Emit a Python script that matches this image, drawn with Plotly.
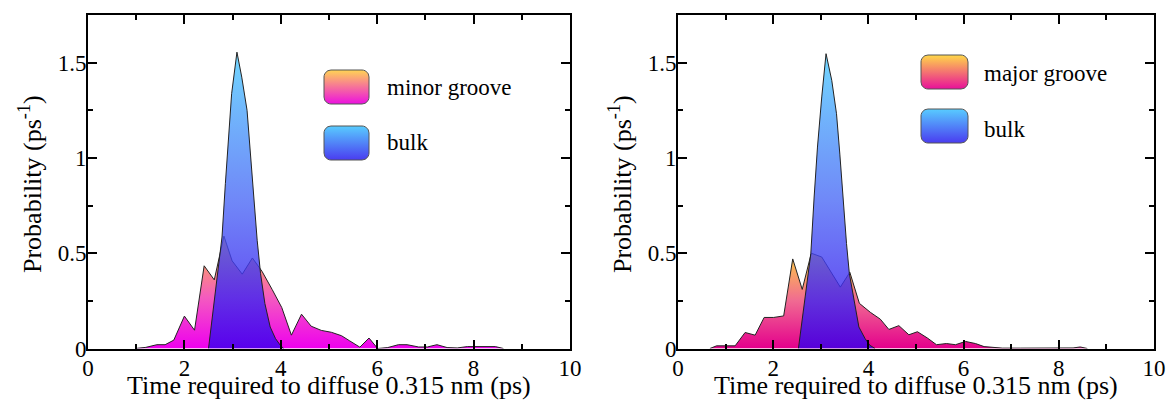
import numpy as np
import plotly.graph_objects as go

# ---- data: probability density vs. diffusion time (ps) ----
x_minor = [0.98, 1.20, 1.43, 1.60, 1.78, 2.00, 2.21, 2.41, 2.62, 2.82, 2.99, 3.20, 3.41, 3.61,
           3.82, 4.02, 4.22, 4.43, 4.63, 4.84, 5.05, 5.26, 5.43, 5.64, 5.83, 6.01, 6.22, 6.44,
           6.62, 6.86, 7.04, 7.24, 7.45, 7.66, 7.87, 8.07, 8.28, 8.45, 8.62]
y_minor = [0.0, 0.006, 0.02, 0.02, 0.044, 0.17, 0.096, 0.434, 0.36, 0.59, 0.46, 0.39, 0.475, 0.405,
           0.31, 0.215, 0.07, 0.18, 0.117, 0.095, 0.085, 0.067, 0.04, 0.007, 0.055, 0.0, 0.005, 0.02,
           0.02, 0.008, 0.008, 0.02, 0.005, 0.003, 0.01, 0.01, 0.01, 0.01, 0.0]

x_bulk_left = [2.50, 2.64, 2.78, 2.85, 2.92, 2.98, 3.09, 3.19, 3.30, 3.37, 3.44, 3.51, 3.58, 3.67,
               3.78, 3.89, 3.99, 4.06]
y_bulk_left = [0.0, 0.29, 0.585, 0.865, 1.11, 1.337, 1.555, 1.424, 1.25, 1.04, 0.795, 0.568, 0.393,
               0.236, 0.113, 0.052, 0.017, 0.0]

x_major = [0.67, 0.81, 1.00, 1.20, 1.41, 1.62, 1.81, 2.01, 2.22, 2.41, 2.61, 2.80, 3.02, 3.21, 3.41,
           3.61, 3.81, 4.04, 4.25, 4.43, 4.64, 4.85, 5.03, 5.24, 5.43, 5.64, 5.83, 6.04, 6.25, 6.43,
           6.64, 6.81, 7.20, 7.60, 8.00, 8.30, 8.45, 8.60]
y_major = [0.0, 0.014, 0.014, 0.014, 0.084, 0.07, 0.163, 0.163, 0.171, 0.47, 0.31, 0.50, 0.48, 0.40,
           0.322, 0.40, 0.237, 0.19, 0.154, 0.10, 0.12, 0.072, 0.088, 0.055, 0.02, 0.026, 0.02,
           0.037, 0.026, 0.01, 0.007, 0.002, 0.002, 0.002, 0.002, 0.003, 0.008, 0.0]

x_bulk_right = [2.53, 2.66, 2.79, 2.86, 2.93, 3.02, 3.11, 3.23, 3.33, 3.40, 3.47, 3.54, 3.60, 3.72,
                3.80, 3.93, 4.03, 4.14]
y_bulk_right = [0.0, 0.25, 0.498, 0.795, 1.057, 1.32, 1.547, 1.407, 1.232, 1.02, 0.778, 0.551, 0.393,
                0.236, 0.113, 0.052, 0.017, 0.0]

x_ticks = [0, 2, 4, 6, 8, 10]
y_ticks = [0, 0.5, 1, 1.5]

x_title = "Time required to diffuse 0.315 nm (ps)"
y_title = "Probability (ps<sup>-1</sup>)"

# ---- styles ----
W, H = 1173, 400
SERIF = "Times New Roman, Liberation Serif, serif"
OUTLINE = "#222222"
minor_scale = [[0, "#ee00ee"], [0.45, "#f45ac0"], [1, "#ffc23a"]]
major_scale = [[0, "#e4008c"], [0.5, "#f06a92"], [1, "#ffcf40"]]
bulk_scale = [[0, "rgba(52,0,236,0.80)"], [0.5, "rgba(76,106,246,0.80)"], [1, "rgba(88,208,255,0.85)"]]
minor_sw = [[0, "#ec10e0"], [1, "#ffd454"]]
major_sw = [[0, "#e8109a"], [1, "#ffd848"]]
bulk_sw = [[0, "#4a3cf0"], [1, "#58ccff"]]

fig = go.Figure()


def area(x, y, scale, xa, ya, name):
    fig.add_trace(go.Scatter(
        x=x, y=y, mode="lines", fill="tozeroy", name=name,
        line=dict(color=OUTLINE, width=1),
        fillgradient=dict(type="vertical", colorscale=scale),
        xaxis=xa, yaxis=ya, showlegend=False, hoverinfo="skip"))


area(x_minor, y_minor, minor_scale, "x", "y", "minor groove")
area(x_bulk_left, y_bulk_left, bulk_scale, "x", "y", "bulk")
area(x_major, y_major, major_scale, "x2", "y2", "major groove")
area(x_bulk_right, y_bulk_right, bulk_scale, "x2", "y2", "bulk")


# rounded legend swatches drawn on a pixel-space overlay axis
def rounded_rect(x0, x1, ytop, ybot, r=7, n=8):
    # y in pixels from the top, converted to an upward axis
    y0, y1 = H - ybot, H - ytop
    pts = []
    corners = [(x1 - r, y1 - r, 0, 90), (x0 + r, y1 - r, 90, 180),
               (x0 + r, y0 + r, 180, 270), (x1 - r, y0 + r, 270, 360)]
    for cx, cy, a0, a1 in corners:
        for a in np.linspace(np.radians(a0), np.radians(a1), n):
            pts.append((cx + r * np.cos(a), cy + r * np.sin(a)))
    pts.append(pts[0])
    xs, ys = zip(*pts)
    return list(xs), list(ys)


def swatch(x0, x1, ytop, ybot, scale):
    xs, ys = rounded_rect(x0, x1, ytop, ybot)
    fig.add_trace(go.Scatter(
        x=xs, y=ys, mode="lines", fill="toself",
        line=dict(color="#555555", width=1),
        fillgradient=dict(type="vertical", colorscale=scale),
        xaxis="x3", yaxis="y3", showlegend=False, hoverinfo="skip"))


swatch(324, 369, 70, 104, minor_sw)
swatch(324, 369, 126, 160, bulk_sw)
swatch(921, 968, 55, 89, major_sw)
swatch(921, 968, 109, 143, bulk_sw)

tickfont = dict(family=SERIF, size=23, color="black")
y_dom = [1 - 348.5 / H, 1 - 15 / H]


def xaxis(domain, anchor):
    return dict(domain=domain, anchor=anchor, range=[0, 10], tickvals=x_ticks,
                ticks="inside", ticklen=9, tickwidth=1.5, tickcolor="black",
                minor=dict(dtick=1, ticks="inside", ticklen=5, tickwidth=1.5, tickcolor="black"),
                showline=True, linewidth=2, linecolor="black", mirror="ticks",
                showgrid=False, zeroline=False, tickfont=tickfont, fixedrange=True,
                ticklabelstandoff=-2, automargin=False)


def yaxis(anchor):
    return dict(domain=y_dom, anchor=anchor, range=[0, 1.75], tickvals=y_ticks,
                ticktext=[str(v) if v != int(v) else str(int(v)) for v in y_ticks],
                ticks="inside", ticklen=9, tickwidth=1.5, tickcolor="black",
                minor=dict(dtick=0.25, ticks="inside", ticklen=5, tickwidth=1.5, tickcolor="black"),
                showline=True, linewidth=2, linecolor="black", mirror="ticks",
                showgrid=False, zeroline=False, tickfont=tickfont, fixedrange=True,
                ticklabelstandoff=-5, automargin=False)


left_dom = [88 / W, 570 / W]
right_dom = [678 / W, 1154 / W]

annotations = []
for dom, yx in ((left_dom, 30), (right_dom, 620)):
    annotations.append(dict(text=x_title, xref="paper", yref="paper",
                            x=(dom[0] + dom[1]) / 2 - 0.5 / W, y=1 - 385 / H, showarrow=False,
                            xanchor="center", yanchor="middle",
                            font=dict(family=SERIF, size=26, color="black")))
    annotations.append(dict(text=y_title, xref="paper", yref="paper",
                            x=yx / W, y=1 - 184 / H, showarrow=False, textangle=-90,
                            xanchor="center", yanchor="middle",
                            font=dict(family=SERIF, size=26, color="black")))

legend_text = [("minor groove", 385, 87), ("bulk", 385, 143),
               ("major groove", 982, 73), ("bulk", 982, 129)]
for txt, px, py in legend_text:
    annotations.append(dict(text=txt, xref="paper", yref="paper", x=px / W, y=1 - py / H,
                            showarrow=False, xanchor="left", yanchor="middle",
                            font=dict(family=SERIF, size=23, color="black")))

fig.update_layout(
    width=W, height=H, margin=dict(l=0, r=0, t=0, b=0, autoexpand=False),
    paper_bgcolor="white", plot_bgcolor="rgba(0,0,0,0)",
    xaxis=xaxis(left_dom, "y"), yaxis=yaxis("x"),
    xaxis2=xaxis(right_dom, "y2"), yaxis2=yaxis("x2"),
    xaxis3=dict(domain=[0, 1], range=[0, W], anchor="y3", visible=False, fixedrange=True),
    yaxis3=dict(domain=[0, 1], range=[0, H], anchor="x3", visible=False, fixedrange=True),
    annotations=annotations, showlegend=False,
)

fig.write_html("out.html")
